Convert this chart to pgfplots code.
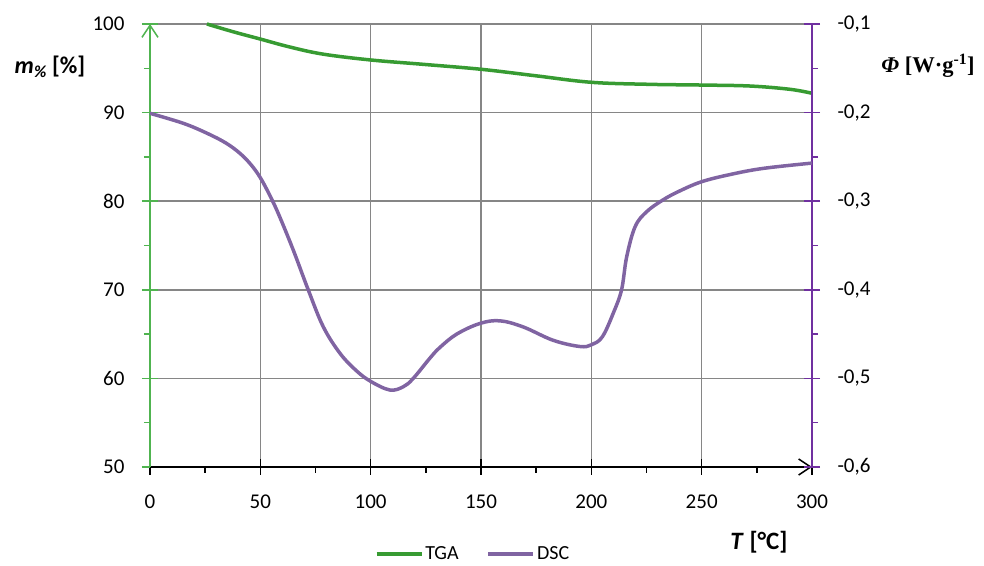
\documentclass[border=0pt]{standalone}
\usepackage{fontspec}
\setmainfont{Carlito}
\newfontfamily\timesf{Liberation Serif}
\usepackage{pgfplots}
\pgfplotsset{compat=1.18}
\usetikzlibrary{arrows.meta}

\definecolor{tgagreen}{RGB}{55,155,50}
\definecolor{axgreen}{RGB}{80,180,80}
\definecolor{dscpurple}{RGB}{128,100,162}
\definecolor{axpurple}{RGB}{112,48,160}
\definecolor{gridgray}{RGB}{134,134,134}

\pgfplotstableread{
T m
25.8 100.0
37.6 99.13
50 98.3
63.4 97.4
78.4 96.6
100 95.94
123.7 95.45
150 94.89
175 94.15
200 93.42
226.5 93.19
250 93.11
271.9 93.0
290 92.63
300 92.18
}\tga

\pgfplotstableread{
T phi
0 -0.2008
15.1 -0.2121
26 -0.2235
34.5 -0.2345
41 -0.2465
46 -0.2595
50 -0.2735
54 -0.2920
58.1 -0.3137
64.9 -0.355
71.7 -0.400
78.5 -0.4416
86.1 -0.4717
93.6 -0.4915
100.1 -0.5035
108.7 -0.5131
114.8 -0.5094
119.3 -0.500
126.9 -0.477
131.4 -0.465
139 -0.450
149.5 -0.438
158.6 -0.435
169.2 -0.442
182.7 -0.457
194.8 -0.464
200.1 -0.462
205 -0.453
210 -0.426
213.7 -0.400
216 -0.363
219.8 -0.329
225 -0.312
232.5 -0.2985
240 -0.2885
250 -0.278
262.7 -0.270
277.8 -0.263
300 -0.257
}\dsc

\begin{document}
\begin{tikzpicture}
\pgfplotsset{
  every axis/.append style={
    scale only axis, width=662pt, height=443pt,
    at={(0pt,0pt)}, anchor=south west,
    xmin=0, xmax=300, clip=false,
    tick align=center, major tick length=16pt, minor tick length=6pt,
    tick label style={font=\fontsize{21}{25}\selectfont},
    /pgf/number format/assume math mode=true,
  },
}
\begin{axis}[
  axis x line*=bottom, axis y line*=left,
  ymin=50, ymax=100,
  xtick={0,50,...,300}, ytick={50,60,...,100},
  minor x tick num=1, minor y tick num=1,
  grid=major,
  major grid style={gridgray, line width=1.5pt},
  x axis line style={black, line width=1.5pt, -{Straight Barb[length=12pt,width=16pt]}},
  y axis line style={axgreen, line width=1.5pt, -{Straight Barb[length=12pt,width=16pt]}},
  x tick style={black, line width=1.5pt},
  y tick style={axgreen, line width=1.5pt},
  minor x tick style={yshift=-3pt},
  minor y tick style={xshift=-3pt},
  xticklabel style={yshift=-16pt},
  yticklabel style={xshift=-14pt},
  legend style={at={(0.488,-0.196)}, anchor=center, draw=none, fill=none,
    font=\fontsize{20}{24}\selectfont, legend columns=2,
    /tikz/every even column/.style={column sep=26pt}},
  legend image code/.code={\draw[#1] (0pt,0pt) -- (45pt,0pt);},
]
\addplot[tgagreen, line width=3.5pt, smooth, tension=0.6] table[x=T, y=m] {\tga};
\addlegendentry{TGA}
\addlegendimage{dscpurple, line width=3.5pt}
\addlegendentry{DSC}
\end{axis}
\begin{axis}[
  axis x line=none, axis y line*=right,
  ymin=-0.6, ymax=-0.1,
  ytick={-0.6,-0.5,-0.4,-0.3,-0.2,-0.1},
  yticklabels={{-0,6},{-0,5},{-0,4},{-0,3},{-0,2},{-0,1}},
  minor y tick num=1,
  y axis line style={axpurple, line width=1.5pt},
  y tick style={axpurple, line width=1.5pt},
  minor y tick style={xshift=3pt},
  yticklabel style={xshift=14pt},
]
\addplot[dscpurple, line width=3.5pt, smooth, tension=0.6] table[x=T, y=phi] {\dsc};
\end{axis}
\node at (-100pt,400pt) {\fontsize{24}{28}\selectfont\textbf{\textit{m}\textsubscript{\textit{\%}} [\%]}};
\node at (778pt,401pt) {\timesf\fontsize{22.5}{26}\selectfont\textbf{\textit{Φ} [W·g\textsuperscript{-1}]}};
\node at (609pt,-75pt) {\fontsize{25}{29}\selectfont\textbf{\textit{T} [°C]}};
\path[use as bounding box] (-150pt,-95pt) rectangle (834pt,467pt);
\end{tikzpicture}
\end{document}
